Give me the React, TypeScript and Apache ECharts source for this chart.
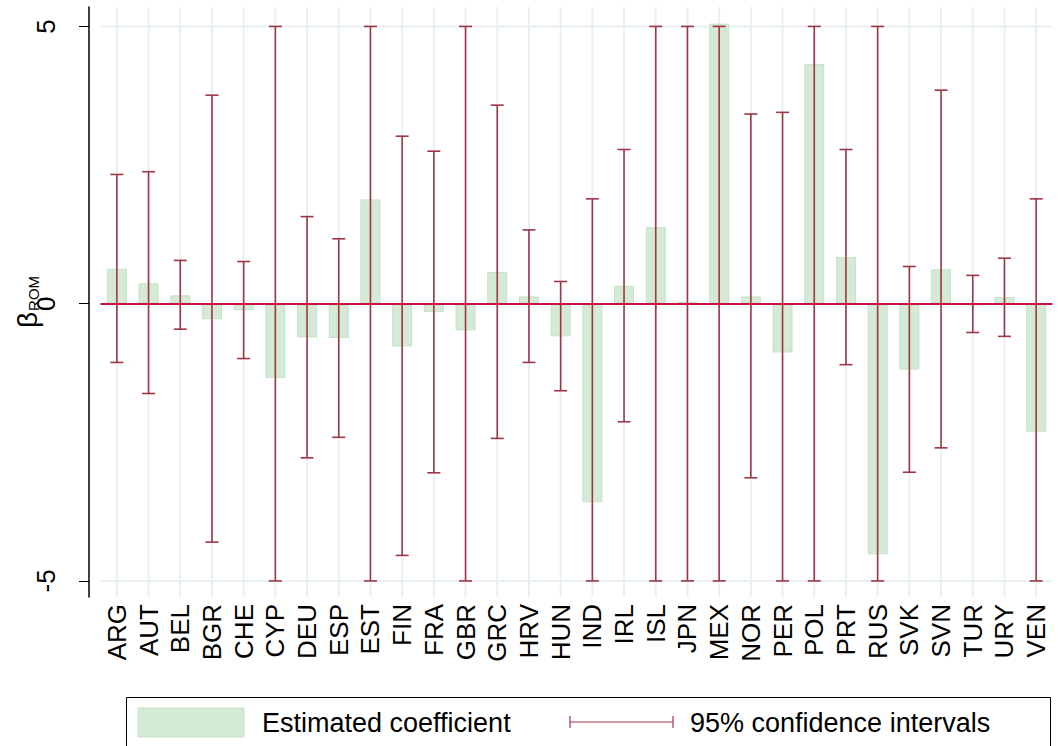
import React, { useEffect, useRef } from "react";
import * as echarts from "echarts";

const categories = ["ARG","AUT","BEL","BGR","CHE","CYP","DEU","ESP","EST","FIN","FRA","GBR","GRC","HRV","HUN","IND","IRL","ISL","JPN","MEX","NOR","PER","POL","PRT","RUS","SVK","SVN","TUR","URY","VEN"];
const coef = [0.63,0.37,0.15,-0.28,-0.12,-1.34,-0.61,-0.62,1.88,-0.77,-0.15,-0.48,0.57,0.13,-0.59,-3.58,0.32,1.38,0.03,5.05,0.13,-0.88,4.32,0.84,-4.52,-1.19,0.62,-0.03,0.12,-2.31];
const ciHigh = [2.33,2.38,0.78,3.76,0.76,5,1.57,1.17,5,3.02,2.75,5,3.58,1.33,0.40,1.89,2.78,5,5,5,3.42,3.45,5,2.78,5,0.67,3.85,0.51,0.82,1.89];
const ciLow = [-1.06,-1.62,-0.46,-4.30,-0.99,-5,-2.78,-2.41,-5,-4.54,-3.05,-5,-2.43,-1.06,-1.57,-5,-2.13,-5,-5,-5,-3.14,-5,-5,-1.10,-5,-3.04,-2.60,-0.52,-0.59,-5];
const yTicks = [-5, 0, 5];
const yGridLines = [-5, 5];

const CI_COLOR = "#9e3646";
const GRID_COLOR = "#e8f0f2";
const FONT = "Liberation Sans, Arial, sans-serif";

export default function App() {
  const ref = useRef<HTMLDivElement>(null);
  useEffect(() => {
    const chart = echarts.init(ref.current!, null, { renderer: "svg" });
    const option: any = {
      animation: false,
      backgroundColor: "#ffffff",
      grid: { left: 101, right: 6, top: 7, bottom: 149, outerBoundsMode: "none", containLabel: false },
      xAxis: {
        type: "category",
        data: categories,
        axisLine: { show: true, lineStyle: { color: "#000", width: 1.5 } },
        axisTick: { show: true, alignWithLabel: true, length: 6, lineStyle: { color: "#000" } },
        axisLabel: { rotate: 90, fontSize: 26, color: "#000", fontFamily: FONT, margin: 7, interval: 0 },
        splitLine: { show: false },
      },
      yAxis: {
        type: "value",
        min: -5.29,
        max: 5.35,
        offset: 12,
        axisLine: { show: true, lineStyle: { color: "#000", width: 1.5 } },
        axisTick: { show: true, length: 10, customValues: yTicks, lineStyle: { color: "#000" } },
        axisLabel: {
          customValues: yTicks,
          rotate: 90,
          fontSize: 26,
          color: "#000",
          fontFamily: FONT,
          margin: 30,
          formatter: (v: number) => String(v),
        },
        splitLine: { show: false },
      },
      series: [
        {
          type: "custom",
          z: 1,
          silent: true,
          data: categories.map((_, i) => [i]),
          renderItem: (params: any, api: any) => {
            const p = api.coord([api.value(0), 0]);
            const cs = params.coordSys;
            const children: any[] = [
              {
                type: "line",
                shape: { x1: p[0], y1: cs.y, x2: p[0], y2: cs.y + cs.height },
                style: { stroke: GRID_COLOR, lineWidth: 2 },
              },
            ];
            if (params.dataIndex === 0) {
              yGridLines.forEach((v) => {
                const q = api.coord([0, v]);
                children.push({
                  type: "line",
                  shape: { x1: cs.x, y1: q[1], x2: cs.x + cs.width, y2: q[1] },
                  style: { stroke: GRID_COLOR, lineWidth: 2 },
                });
              });
            }
            return { type: "group", children };
          },
        },
        {
          type: "bar",
          z: 2,
          data: coef,
          barWidth: 20,
          itemStyle: { color: "#d4ead4", borderColor: "#c6e1c6", borderWidth: 1 },
        },
        {
          type: "line",
          z: 3,
          data: [],
          markLine: {
            silent: true,
            symbol: "none",
            label: { show: false },
            data: [{ yAxis: 0 }],
            lineStyle: { color: "#cc1040", width: 2, type: "solid" },
          },
        },
        {
          type: "custom",
          z: 4,
          silent: true,
          data: categories.map((_, i) => [i, ciHigh[i], ciLow[i]]),
          renderItem: (params: any, api: any) => {
            const hi = api.coord([api.value(0), api.value(1)]);
            const lo = api.coord([api.value(0), api.value(2)]);
            const hw = 6.5;
            const st = { stroke: CI_COLOR, lineWidth: 1.6 };
            return {
              type: "group",
              children: [
                { type: "line", shape: { x1: hi[0], y1: hi[1], x2: lo[0], y2: lo[1] }, style: st },
                { type: "line", shape: { x1: hi[0] - hw, y1: hi[1], x2: hi[0] + hw, y2: hi[1] }, style: st },
                { type: "line", shape: { x1: lo[0] - hw, y1: lo[1], x2: lo[0] + hw, y2: lo[1] }, style: st },
              ],
            };
          },
        },
      ],
      graphic: [
        {
          type: "text",
          x: 27,
          y: 302,
          rotation: Math.PI / 2,
          style: {
            text: "{b|β}{s|ROM}",
            align: "center",
            verticalAlign: "middle",
            rich: {
              b: { fontSize: 28, fontFamily: FONT, fill: "#000", verticalAlign: "bottom" },
              s: { fontSize: 15, fontFamily: FONT, fill: "#000", verticalAlign: "bottom", padding: [0, 0, 0, 1] },
            },
          },
        },
        {
          type: "rect",
          shape: { x: 126.5, y: 697.5, width: 924, height: 60 },
          style: { fill: "#fff", stroke: "#000", lineWidth: 1 },
        },
        {
          type: "rect",
          shape: { x: 138, y: 708, width: 106, height: 29 },
          style: { fill: "#d4ead4", stroke: "#c6e1c6", lineWidth: 1 },
        },
        {
          type: "text",
          x: 262,
          y: 723,
          style: { text: "Estimated coefficient", font: "27px " + FONT, fill: "#000", verticalAlign: "middle" },
        },
        { type: "line", shape: { x1: 570, y1: 722, x2: 673, y2: 722 }, style: { stroke: CI_COLOR, lineWidth: 1.2 } },
        { type: "line", shape: { x1: 570, y1: 716, x2: 570, y2: 728 }, style: { stroke: CI_COLOR, lineWidth: 1.2 } },
        { type: "line", shape: { x1: 673, y1: 716, x2: 673, y2: 728 }, style: { stroke: CI_COLOR, lineWidth: 1.2 } },
        {
          type: "text",
          x: 690,
          y: 723,
          style: { text: "95% confidence intervals", font: "27px " + FONT, fill: "#000", verticalAlign: "middle" },
        },
      ],
    };
    chart.setOption(option);
    return () => chart.dispose();
  }, []);
  return (
    <div
      ref={ref}
      style={{ position: "fixed", left: 0, top: 0, width: 1058, height: 746 }}
    />
  );
}
